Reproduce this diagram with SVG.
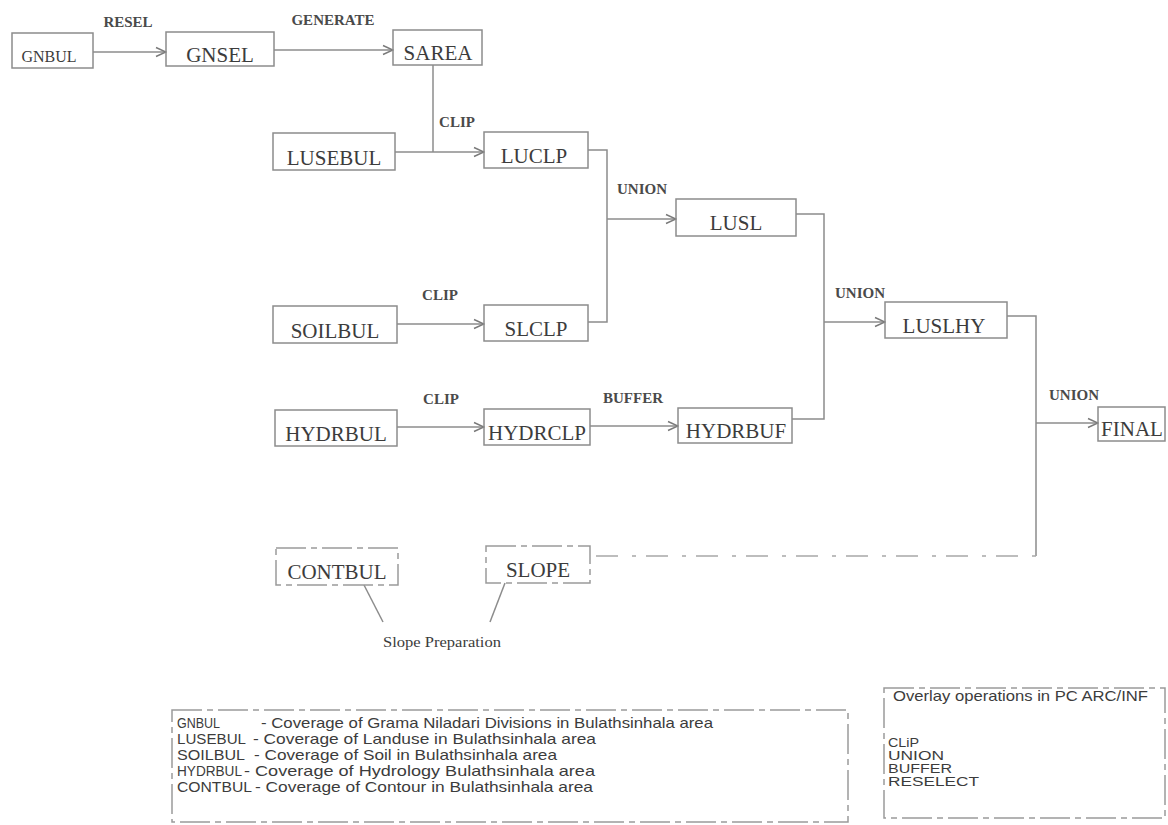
<svg xmlns="http://www.w3.org/2000/svg" width="1168" height="825" viewBox="0 0 1168 825">
<style>
.bg{fill:#ffffff}
.box{fill:none;stroke:#8c8c8c;stroke-width:1.5}
.dbox{fill:none;stroke:#9a9a9a;stroke-width:1.5;stroke-dasharray:30 5 6 5}
.nt{font-family:"Liberation Serif","Times New Roman",serif;font-size:21px;fill:#3c3c3c;text-anchor:middle}
.lb{font-family:"Liberation Serif","Times New Roman",serif;font-size:15px;font-weight:bold;fill:#4a4a4a;text-anchor:middle}
.ln{fill:none;stroke:#8c8c8c;stroke-width:1.5}
.dl{fill:none;stroke:#a8a8a8;stroke-width:1.5;stroke-dasharray:4 14 22 10}
.lg{font-family:"Liberation Sans",Arial,sans-serif;font-size:15px;fill:#3c3c3c}
.ov{font-family:"Liberation Sans",Arial,sans-serif;font-size:12px;fill:#3c3c3c}
.sp{font-family:"Liberation Serif","Times New Roman",serif;font-size:14px;fill:#3c3c3c;text-anchor:middle}
</style>
<defs>
<marker id="arr" markerWidth="12" markerHeight="12" refX="11" refY="6" orient="auto" markerUnits="userSpaceOnUse">
<path d="M1,1.5 L11,6 L1,10.5" fill="none" stroke="#7a7a7a" stroke-width="1.5"/>
</marker>
</defs>
<rect class="bg" x="0" y="0" width="1168" height="825"/>

<g id="connectors">
<path class="ln" d="M93,52 H166" marker-end="url(#arr)"/>
<path class="ln" d="M274,50 H393" marker-end="url(#arr)"/>
<path class="ln" d="M433,65 V152"/>
<path class="ln" d="M395,152 H484" marker-end="url(#arr)"/>
<path class="ln" d="M588,150 H607 V322 H588"/>
<path class="ln" d="M607,219 H676" marker-end="url(#arr)"/>
<path class="ln" d="M397,324 H484" marker-end="url(#arr)"/>
<path class="ln" d="M796,214 H824 V419 H792"/>
<path class="ln" d="M824,322 H885" marker-end="url(#arr)"/>
<path class="ln" d="M397,427 H484" marker-end="url(#arr)"/>
<path class="ln" d="M590,426 H678" marker-end="url(#arr)"/>
<path class="ln" d="M1007,316 H1036 V556"/>
<path class="ln" d="M1036,423 H1098" marker-end="url(#arr)"/>
<path class="dl" d="M1036,556 H590"/>
<path class="ln" d="M364,585 L383,622"/>
<path class="ln" d="M505,583 L490,622"/>
<text class="lb" x="128" y="27">RESEL</text>
<text class="lb" x="333" y="25">GENERATE</text>
<text class="lb" x="457" y="127">CLIP</text>
<text class="lb" x="642" y="194">UNION</text>
<text class="lb" x="440" y="300">CLIP</text>
<text class="lb" x="860" y="298">UNION</text>
<text class="lb" x="441" y="404">CLIP</text>
<text class="lb" x="633" y="403">BUFFER</text>
<text class="lb" x="1074" y="400">UNION</text>
<text class="sp" x="442" y="647" textLength="118" lengthAdjust="spacingAndGlyphs">Slope Preparation</text>
</g>

<g id="GNBUL"><rect class="box" x="12" y="33" width="81" height="35"/><text class="nt" x="49" y="62" style="font-size:16px">GNBUL</text></g>
<g id="GNSEL"><rect class="box" x="166" y="32" width="108" height="34"/><text class="nt" x="220" y="62">GNSEL</text></g>
<g id="SAREA"><rect class="box" x="393" y="30" width="89" height="35"/><text class="nt" x="438" y="60">SAREA</text></g>
<g id="LUSEBUL"><rect class="box" x="273" y="133" width="122" height="37"/><text class="nt" x="334" y="165">LUSEBUL</text></g>
<g id="LUCLP"><rect class="box" x="484" y="132" width="104" height="36"/><text class="nt" x="534" y="163">LUCLP</text></g>
<g id="LUSL"><rect class="box" x="676" y="199" width="120" height="37"/><text class="nt" x="736" y="230">LUSL</text></g>
<g id="SOILBUL"><rect class="box" x="273" y="306" width="124" height="37"/><text class="nt" x="335" y="338">SOILBUL</text></g>
<g id="SLCLP"><rect class="box" x="484" y="305" width="104" height="36"/><text class="nt" x="536" y="336">SLCLP</text></g>
<g id="LUSLHY"><rect class="box" x="885" y="302" width="122" height="36"/><text class="nt" x="944" y="333">LUSLHY</text></g>
<g id="HYDRBUL"><rect class="box" x="275" y="410" width="122" height="36"/><text class="nt" x="336" y="441">HYDRBUL</text></g>
<g id="HYDRCLP"><rect class="box" x="484" y="409" width="106" height="36"/><text class="nt" x="537" y="440">HYDRCLP</text></g>
<g id="HYDRBUF"><rect class="box" x="678" y="408" width="114" height="35"/><text class="nt" x="736" y="438">HYDRBUF</text></g>
<g id="FINAL"><rect class="box" x="1098" y="407" width="67" height="34"/><text class="nt" x="1132" y="436">FINAL</text></g>
<g id="CONTBUL"><rect class="dbox" x="276" y="548" width="122" height="37"/><text class="nt" x="337" y="579">CONTBUL</text></g>
<g id="SLOPE"><rect class="dbox" x="486" y="546" width="104" height="37"/><text class="nt" x="538" y="577">SLOPE</text></g>

<g id="legend">
<rect class="dbox" x="172" y="710" width="676" height="112"/>
<text class="lg" x="177" y="728" textLength="43" lengthAdjust="spacingAndGlyphs">GNBUL</text>
<text class="lg" x="261" y="728" textLength="452" lengthAdjust="spacingAndGlyphs">- Coverage of Grama Niladari Divisions in Bulathsinhala area</text>
<text class="lg" x="177" y="744" textLength="69" lengthAdjust="spacingAndGlyphs">LUSEBUL</text>
<text class="lg" x="253" y="744" textLength="343" lengthAdjust="spacingAndGlyphs">- Coverage of Landuse in Bulathsinhala area</text>
<text class="lg" x="177" y="760" textLength="68" lengthAdjust="spacingAndGlyphs">SOILBUL</text>
<text class="lg" x="254" y="760" textLength="303" lengthAdjust="spacingAndGlyphs">- Coverage of Soil in Bulathsinhala area</text>
<text class="lg" x="177" y="776" textLength="65" lengthAdjust="spacingAndGlyphs">HYDRBUL</text>
<text class="lg" x="244" y="776" textLength="351" lengthAdjust="spacingAndGlyphs">- Coverage of Hydrology Bulathsinhala area</text>
<text class="lg" x="177" y="792" textLength="75" lengthAdjust="spacingAndGlyphs">CONTBUL</text>
<text class="lg" x="255" y="792" textLength="338" lengthAdjust="spacingAndGlyphs">- Coverage of Contour in Bulathsinhala area</text>
</g>

<g id="overlay">
<rect class="dbox" x="884" y="688" width="281" height="130"/>
<text class="lg" x="893" y="701" textLength="255" lengthAdjust="spacingAndGlyphs">Overlay operations in PC ARC/INF</text>
<text class="ov" x="888" y="747" textLength="31" lengthAdjust="spacingAndGlyphs">CLiP</text>
<text class="ov" x="888" y="760" textLength="56" lengthAdjust="spacingAndGlyphs">UNION</text>
<text class="ov" x="888" y="773" textLength="64" lengthAdjust="spacingAndGlyphs">BUFFER</text>
<text class="ov" x="888" y="786" textLength="91" lengthAdjust="spacingAndGlyphs">RESELECT</text>
</g>
</svg>
